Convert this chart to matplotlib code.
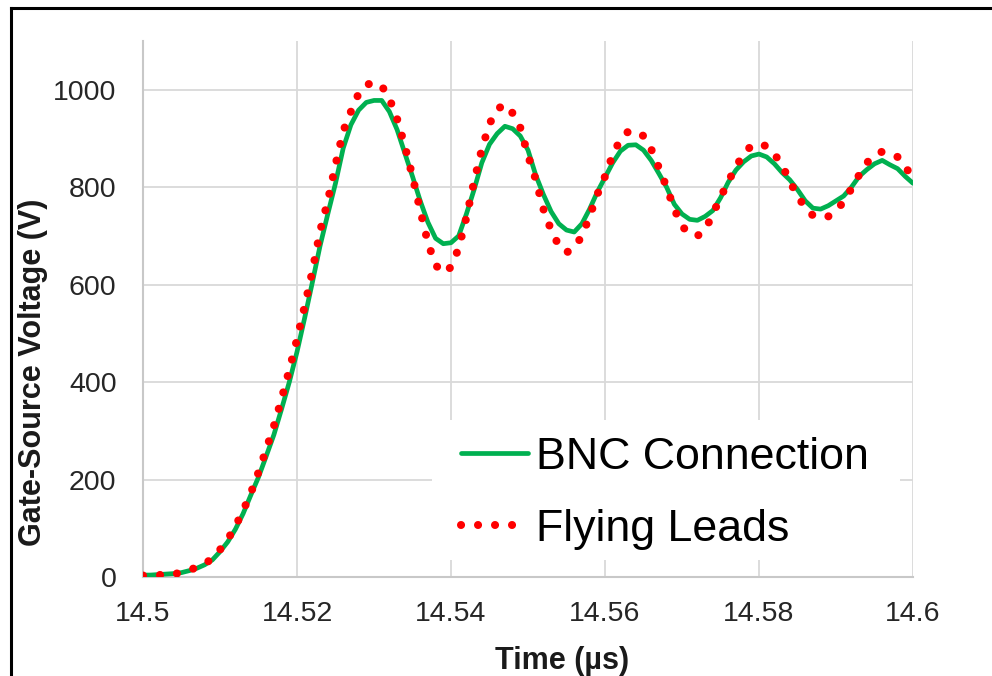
import numpy as np
import matplotlib
matplotlib.use("Agg")
import matplotlib.pyplot as plt
from matplotlib.lines import Line2D
from matplotlib.patches import Rectangle

plt.rcParams['font.family'] = ['Liberation Sans', 'DejaVu Sans']

time_us = np.round(np.arange(14.500, 14.6005, 0.001), 3)

bnc_connection = [
    4, 4, 5, 6, 7, 9, 13, 18, 25, 35,
    52, 72, 98, 130, 168, 205, 248, 292, 345, 400,
    462, 532, 605, 680, 745, 808, 880, 928, 958, 974,
    978, 978, 955, 918, 870, 822, 772, 728, 695, 684,
    686, 700, 745, 795, 850, 888, 910, 925, 920, 905,
    876, 825, 785, 750, 725, 712, 708, 725, 755, 790,
    820, 850, 874, 886, 887, 876, 855, 828, 800, 765,
    745, 734, 732, 740, 752, 778, 810, 835, 852, 864,
    868, 862, 848, 830, 815, 795, 772, 757, 755, 762,
    772, 782, 800, 822, 836, 848, 855, 846, 838, 822,
    808,
]

flying_leads = [
    3, 3, 4, 5, 6, 9, 14, 20, 27, 38,
    56, 77, 104, 136, 172, 215, 262, 310, 366, 425,
    488, 556, 628, 710, 772, 846, 915, 955, 992, 1010,
    1015, 1008, 982, 940, 885, 822, 753, 686, 640, 624,
    636, 675, 738, 812, 878, 930, 960, 970, 952, 922,
    865, 816, 755, 712, 680, 666, 675, 700, 740, 785,
    822, 866, 898, 914, 915, 905, 878, 840, 800, 755,
    720, 704, 700, 712, 745, 779, 811, 842, 868, 885,
    889, 884, 868, 845, 812, 782, 758, 742, 737, 740,
    752, 770, 797, 825, 850, 865, 873, 869, 862, 845,
    812,
]

x_ticks = [14.5, 14.52, 14.54, 14.56, 14.58, 14.6]
x_tick_labels = ["14.5", "14.52", "14.54", "14.56", "14.58", "14.6"]
y_ticks = [0, 200, 400, 600, 800, 1000]
series_names = ["BNC Connection", "Flying Leads"]

W, H = 992, 676
fig = plt.figure(figsize=(W / 100, H / 100), dpi=100)
ax = fig.add_axes([143 / W, 1 - 577 / H, 770 / W, 536 / H])

ax.set_axisbelow(True)
ax.grid(True, color='#D9D9D9', linewidth=1.3)
ax.plot(time_us, bnc_connection, color='#00B050', linewidth=3.4,
        solid_joinstyle='round', solid_capstyle='round', label=series_names[0], zorder=3)
ax.plot(time_us, flying_leads, color='#FF0000', linewidth=5.8,
        linestyle=(0, (0.01, 2.1)), dash_capstyle='round', label=series_names[1], zorder=4)

ax.set_xlim(14.5, 14.6)
ax.set_ylim(0, 1100)
ax.set_xticks(x_ticks)
ax.set_xticklabels(x_tick_labels)
ax.set_yticks(y_ticks)
ax.tick_params(axis='both', length=0, labelsize=20.5, colors='#262626')
ax.tick_params(axis='y', pad=19)
ax.tick_params(axis='x', pad=17)

for s in ['top', 'right']:
    ax.spines[s].set_visible(False)
for s in ['left', 'bottom']:
    ax.spines[s].set_color('#C8C8C8')
    ax.spines[s].set_linewidth(1.5)

ax.set_xlabel("Time (µs)", fontsize=22, fontweight='bold', color='#1a1a1a', va='center')
ax.xaxis.set_label_coords(0.544, (577 - 661) / 536)
ax.set_ylabel("Gate-Source Voltage (V)", fontsize=22, fontweight='bold', color='#1a1a1a', va='center')
ax.yaxis.set_label_coords((33 - 143) / 770, (577 - 372) / 536)

# white legend box
ax.add_patch(Rectangle(((432 - 143) / 770, (577 - 560) / 536), (900 - 432) / 770, (560 - 420) / 536,
                       transform=ax.transAxes, facecolor='white', edgecolor='none', zorder=5))
leg = ax.legend(loc='upper left', bbox_to_anchor=((461 - 143) / 770, (577 - 437) / 536),
                frameon=False, fontsize=32.2, handlelength=1.49, handletextpad=0.18,
                labelspacing=0.69, borderpad=0, borderaxespad=0)
leg.set_zorder(6)

# figure border (cropped frame)
fig.add_artist(Line2D([11 / W, 11 / W], [0, 1 - 8 / H], transform=fig.transFigure,
                      color='black', linewidth=2.2))
fig.add_artist(Line2D([11 / W, 1], [1 - 8 / H, 1 - 8 / H], transform=fig.transFigure,
                      color='black', linewidth=2.2))

fig.savefig("out.png", dpi=100)
